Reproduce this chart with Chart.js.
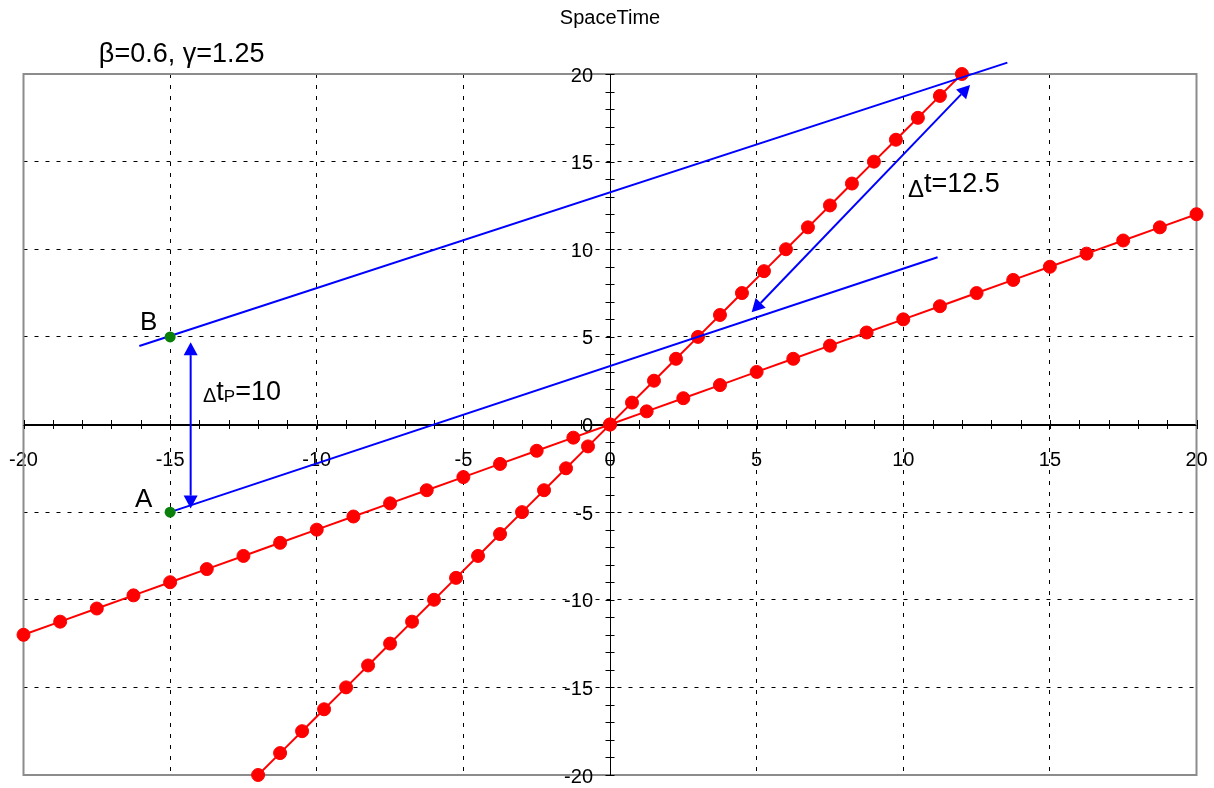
<!DOCTYPE html>
<html>
<head>
<meta charset="utf-8">
<script src="https://cdn.jsdelivr.net/npm/chart.js@4.4.1/dist/chart.umd.min.js"></script>
<style>
html, body { margin:0; padding:0; background:#fff; }
#wrap { width:1214px; height:788px; }
</style>
</head>
<body>
<div id="wrap"><canvas id="myChart"></canvas></div>
<script>
// worldline with slope 0.6 (x, t)
var shallowX = [-20, -18.75, -17.5, -16.25, -15, -13.75, -12.5, -11.25, -10, -8.75, -7.5, -6.25, -5, -3.75, -2.5, -1.25, 0,
	1.25, 2.5, 3.75, 5, 6.25, 7.5, 8.75, 10, 11.25, 12.5, 13.75, 15, 16.25, 17.5, 18.75, 20];
var shallowT = [-12, -11.25, -10.5, -9.75, -9, -8.25, -7.5, -6.75, -6, -5.25, -4.5, -3.75, -3, -2.25, -1.5, -0.75, 0,
	0.75, 1.5, 2.25, 3, 3.75, 4.5, 5.25, 6, 6.75, 7.5, 8.25, 9, 9.75, 10.5, 11.25, 12];
// worldline of the moving clock
var steepX = [-12, -11.25, -10.5, -9.75, -9, -8.25, -7.5, -6.75, -6, -5.25, -4.5, -3.75, -3, -2.25, -1.5, -0.75, 0,
	0.75, 1.5, 2.25, 3, 3.75, 4.5, 5.25, 6, 6.75, 7.5, 8.25, 9, 9.75, 10.5, 11.25, 12];
var steepT = [-20, -18.75, -17.5, -16.25, -15, -13.75, -12.5, -11.25, -10, -8.75, -7.5, -6.25, -5, -3.75, -2.5, -1.25, 0,
	1.25, 2.5, 3.75, 5, 6.25, 7.5, 8.75, 10, 11.25, 12.5, 13.75, 15, 16.25, 17.5, 18.75, 20];
// events A and B
var eventX = [-15, -15];
var eventT = [-5, 5];
// lines of simultaneity
var upperX = [-16.05, 13.55];
var upperT = [4.48, 20.65];
var lowerX = [-15, 11.17];
var lowerT = [-5, 9.54];
// double arrows
var arrowPX = [-14.3, -14.3];
var arrowPT = [-4.8, 4.7];
var arrowDX = [4.83, 12.28];
var arrowDT = [6.4, 19.37];
// axis tick labels
var xTickValues = [-20, -15, -10, -5, 0, 5, 10, 15, 20];
var yTickValues = [-20, -15, -10, -5, 0, 5, 10, 15, 20];

var notes = [
	{x: -17.43, y: 20.7, parts: [['\u03b2=0.6, \u03b3=1.25', 27, 0]]},
	{x: -16.2, y: -4.71, parts: [['A', 26, 0]]},
	{x: -16.03, y: 5.39, parts: [['B', 26, 0]]},
	{x: -13.88, y: 1.4, parts: [['\u0394', 20, 2], ['t', 27, 0], ['P', 17, 2], ['=10', 27, 0]]},
	{x: 10.16, y: 13.28, parts: [['\u0394', 24, 5], ['t=12.5', 27, 0]]}
];

var FONT = "'Liberation Sans', Arial, sans-serif";
Chart.defaults.font.family = FONT;
Chart.defaults.color = '#000';

function pts(xs, ys){
	return xs.map(function(v, i){ return {x: v, y: ys[i]}; });
}

function drawArrow(ctx, x1, y1, x2, y2){
	var ang = Math.atan2(y2 - y1, x2 - x1),
		len = 13, hw = 7;
	ctx.beginPath();
	ctx.moveTo(x1 + Math.cos(ang) * len, y1 + Math.sin(ang) * len);
	ctx.lineTo(x2 - Math.cos(ang) * len, y2 - Math.sin(ang) * len);
	ctx.stroke();
	[[x2, y2, ang], [x1, y1, ang + Math.PI]].forEach(function(h){
		var bx = h[0] - Math.cos(h[2]) * len,
			by = h[1] - Math.sin(h[2]) * len;
		ctx.beginPath();
		ctx.moveTo(h[0], h[1]);
		ctx.lineTo(bx + Math.sin(h[2]) * hw, by - Math.cos(h[2]) * hw);
		ctx.lineTo(bx - Math.sin(h[2]) * hw, by + Math.cos(h[2]) * hw);
		ctx.closePath();
		ctx.fill();
	});
}

var decor = {
	id: 'decor',
	beforeDatasetsDraw: function(chart){
		var ctx = chart.ctx, a = chart.chartArea,
			xs = chart.scales.x, ys = chart.scales.y,
			x0 = xs.getPixelForValue(0), y0 = ys.getPixelForValue(0), i;
		ctx.save();
		// frame
		ctx.strokeStyle = '#8c8c8c';
		ctx.lineWidth = 2;
		ctx.strokeRect(a.left, a.top, a.right - a.left, a.bottom - a.top);
		// axes drawn again on top of frame
		ctx.strokeStyle = '#000';
		ctx.lineWidth = 1;
		ctx.beginPath();
		ctx.moveTo(a.left, Math.round(y0) + 0.5); ctx.lineTo(a.right, Math.round(y0) + 0.5);
		ctx.moveTo(Math.round(x0) + 0.5, a.top); ctx.lineTo(Math.round(x0) + 0.5, a.bottom);
		// minor ticks every unit
		for (i = -20; i <= 20; i++){
			var px = Math.round(xs.getPixelForValue(i)) + 0.5,
				py = Math.round(ys.getPixelForValue(i)) + 0.5;
			ctx.moveTo(px, y0 - 4.5); ctx.lineTo(px, y0 + 4.5);
			ctx.moveTo(x0 - 4.5, py); ctx.lineTo(x0 + 4.5, py);
		}
		ctx.stroke();
		// y tick labels
		ctx.font = '20px ' + FONT;
		ctx.fillStyle = '#000';
		ctx.textAlign = 'right';
		ctx.textBaseline = 'middle';
		ys.ticks.forEach(function(t){
			ctx.fillText(String(t.value), x0 - 17, ys.getPixelForValue(t.value) + 2);
		});
		ctx.restore();
	},
	afterDatasetsDraw: function(chart){
		var ctx = chart.ctx, xs = chart.scales.x, ys = chart.scales.y;
		ctx.save();
		ctx.strokeStyle = '#0000ff';
		ctx.fillStyle = '#0000ff';
		ctx.lineWidth = 2;
		drawArrow(ctx, xs.getPixelForValue(arrowPX[0]), ys.getPixelForValue(arrowPT[0]),
			xs.getPixelForValue(arrowPX[1]), ys.getPixelForValue(arrowPT[1]));
		drawArrow(ctx, xs.getPixelForValue(arrowDX[0]), ys.getPixelForValue(arrowDT[0]),
			xs.getPixelForValue(arrowDX[1]), ys.getPixelForValue(arrowDT[1]));
		// text notes
		ctx.fillStyle = '#000';
		ctx.textAlign = 'left';
		ctx.textBaseline = 'alphabetic';
		notes.forEach(function(n){
			var px = xs.getPixelForValue(n.x), py = ys.getPixelForValue(n.y);
			n.parts.forEach(function(p){
				ctx.font = p[1] + 'px ' + FONT;
				ctx.fillText(p[0], px, py + p[2]);
				px += ctx.measureText(p[0]).width;
			});
		});
		ctx.restore();
	}
};

function gridColor(c){
	var v = c.tick ? c.tick.value : 0;
	return (v === 0 || Math.abs(v) === 20) ? 'rgba(0,0,0,0)' : '#000';
}

function flatten(s, horizontal){
	if (horizontal) { s.height = 0; } else { s.width = 0; }
	s.paddingLeft = 0; s.paddingRight = 0; s.paddingTop = 0; s.paddingBottom = 0;
}

myChart = new Chart(document.getElementById('myChart'), {
	type: 'scatter',
	data: {
		datasets: [{
			label: 'A,B',
			data: pts(eventX, eventT),
			pointRadius: 5.5,
			pointBackgroundColor: '#0a800a',
			pointBorderWidth: 0,
			showLine: false
		}, {
			label: 'upper',
			data: pts(upperX, upperT),
			borderColor: '#0000ff',
			borderWidth: 2,
			pointRadius: 0,
			showLine: true
		}, {
			label: 'lower',
			data: pts(lowerX, lowerT),
			borderColor: '#0000ff',
			borderWidth: 2,
			pointRadius: 0,
			showLine: true
		}, {
			label: 'shallow',
			data: pts(shallowX, shallowT),
			borderColor: '#ff0000',
			borderWidth: 2,
			pointRadius: 6.5,
			pointBorderWidth: 1,
			pointBackgroundColor: '#ff0000',
			pointBorderColor: '#ff0000',
			showLine: true
		}, {
			label: 'steep',
			data: pts(steepX, steepT),
			borderColor: '#ff0000',
			borderWidth: 2,
			pointRadius: 6.5,
			pointBorderWidth: 1,
			pointBackgroundColor: '#ff0000',
			pointBorderColor: '#ff0000',
			showLine: true
		}]
	},
	options: {
		animation: false,
		responsive: true,
		maintainAspectRatio: false,
		devicePixelRatio: 1,
		clip: false,
		layout: { padding: { left: 23.5, right: 17.5, top: 0, bottom: 13 } },
		plugins: {
			legend: { display: false },
			tooltip: { enabled: false },
			title: {
				display: true,
				text: 'SpaceTime',
				font: { size: 20, weight: 'normal' },
				color: '#000',
				padding: { top: 6, bottom: 44 }
			}
		},
		scales: {
			x: {
				type: 'linear',
				position: { y: 0 },
				min: -20,
				max: 20,
				afterBuildTicks: function(s){ s.ticks = xTickValues.map(function(v){ return {value: v}; }); },
				afterFit: function(s){ flatten(s, true); },
				ticks: { font: { size: 20 }, color: '#000', padding: 24, maxRotation: 0, autoSkip: false },
				grid: { color: gridColor, lineWidth: 1, drawTicks: false },
				border: { display: true, color: '#000', width: 1, dash: [4, 7] }
			},
			y: {
				type: 'linear',
				position: { x: 0 },
				min: -20,
				max: 20,
				afterBuildTicks: function(s){ s.ticks = yTickValues.map(function(v){ return {value: v}; }); },
				afterFit: function(s){ flatten(s, false); },
				ticks: { display: false },
				grid: { color: gridColor, lineWidth: 1, drawTicks: false },
				border: { display: true, color: '#000', width: 1, dash: [4, 7] }
			}
		}
	},
	plugins: [decor]
});
</script>
</body>
</html>
